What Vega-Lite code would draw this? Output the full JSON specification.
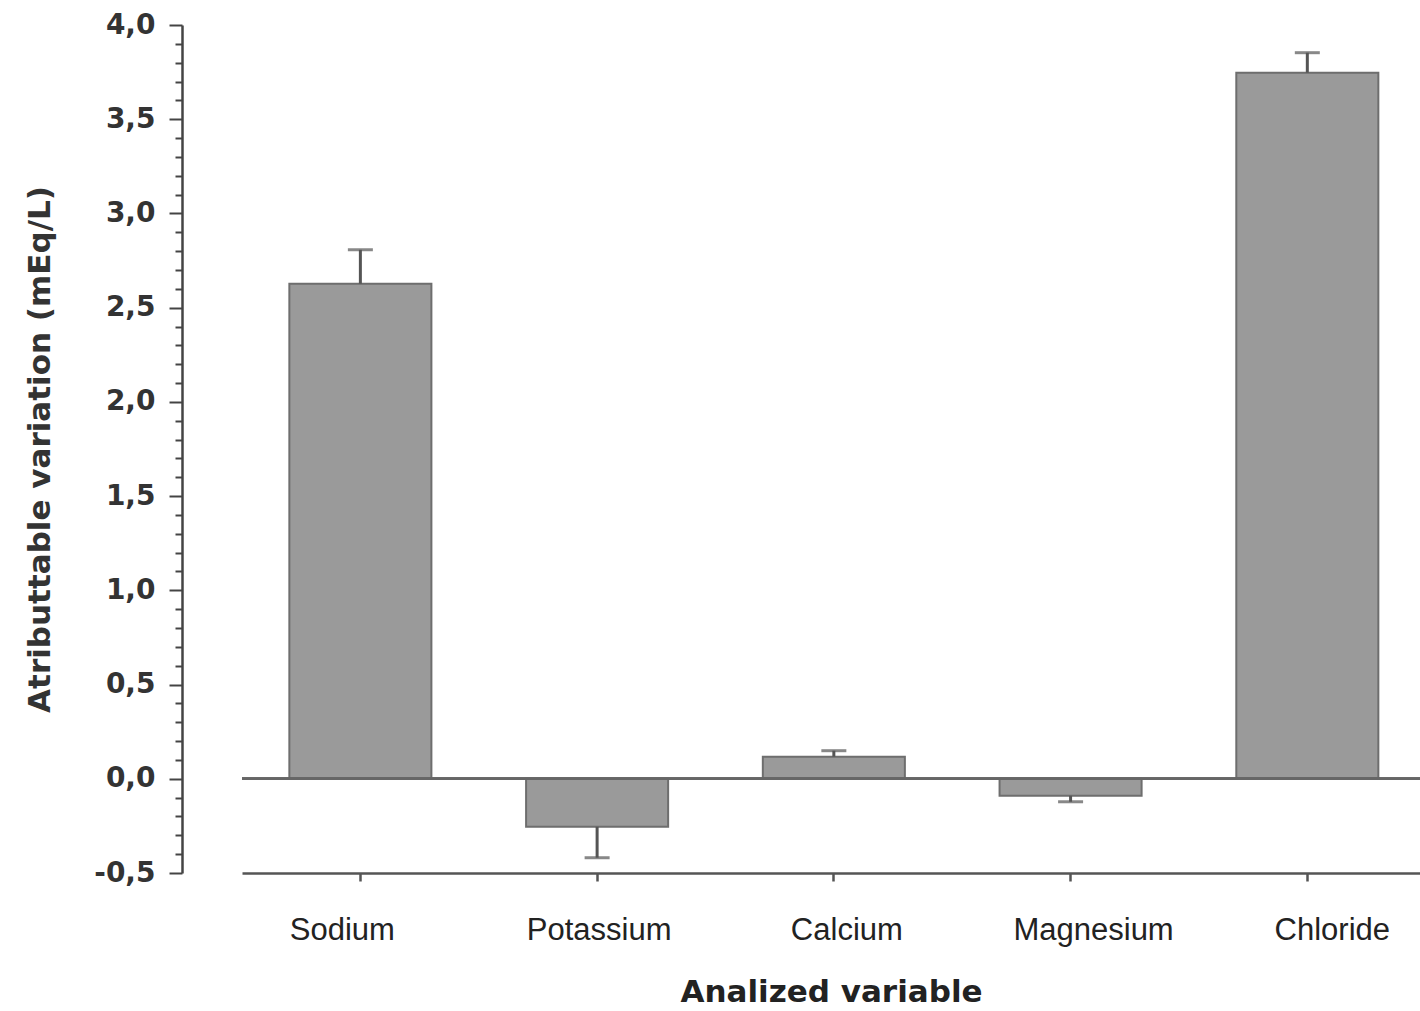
{
  "$schema": "https://vega.github.io/schema/vega-lite/v6.json",
  "width": 1178,
  "height": 848,
  "autosize": {"type": "none"},
  "padding": {"left": 242, "top": 25, "right": 0, "bottom": 138},
  "background": "white",
  "config": {"view": {"stroke": null}},
  "data": {
    "values": [
      {"element": "Sodium", "value": 2.627, "err": 2.807},
      {"element": "Potassium", "value": -0.255, "err": -0.419},
      {"element": "Calcium", "value": 0.117, "err": 0.149},
      {"element": "Magnesium", "value": -0.09, "err": -0.122},
      {"element": "Chloride", "value": 3.747, "err": 3.853}
    ]
  },
  "layer": [
    {
      "mark": {"type": "bar", "color": "#9a9a9a", "stroke": "#6e6e6e", "strokeWidth": 2},
      "encoding": {
        "x": {
          "field": "element", "type": "nominal", "sort": null,
          "scale": {"paddingInner": 0.4, "paddingOuter": 0.188, "align": 0.532},
          "axis": {
            "title": "Analized variable",
            "titleFont": "DejaVu Sans", "titleFontWeight": "bold", "titleFontSize": 31, "titleColor": "#222",
            "titlePadding": 32,
            "labelAngle": 0, "labelFont": "Liberation Sans", "labelFontSize": 31, "labelColor": "#222",
            "labelPadding": 34,
            "labelOffset": {
              "condition": [
                {"test": "datum.value === 'Sodium'", "value": -18},
                {"test": "datum.value === 'Calcium'", "value": 13},
                {"test": "datum.value === 'Magnesium'", "value": 23},
                {"test": "datum.value === 'Chloride'", "value": 25}
              ],
              "value": 2
            },
            "domainColor": "#555", "domainWidth": 2.5,
            "tickColor": "#555", "tickWidth": 2.5, "tickSize": 8
          }
        },
        "y": {
          "field": "value", "type": "quantitative",
          "scale": {"domain": [-0.5, 4.0], "nice": false, "zero": false},
          "axis": {
            "title": "Atributtable variation (mEq/L)",
            "titleFont": "DejaVu Sans", "titleFontWeight": "bold", "titleFontSize": 31, "titleColor": "#333",
            "titlePadding": 37,
            "offset": 60,
            "grid": false,
            "tickCount": 200,
            "values": [-0.5,-0.4,-0.3,-0.2,-0.1,0,0.1,0.2,0.3,0.4,0.5,0.6,0.7,0.8,0.9,1.0,1.1,1.2,1.3,1.4,1.5,1.6,1.7,1.8,1.9,2.0,2.1,2.2,2.3,2.4,2.5,2.6,2.7,2.8,2.9,3.0,3.1,3.2,3.3,3.4,3.5,3.6,3.7,3.8,3.9,4.0],
            "labelExpr": "abs(datum.value*2 - round(datum.value*2)) < 0.001 ? replace(replace(format(datum.value, '.1f'), '.', ','), '\u2212', '-') : ''",
            "labelOverlap": false,
            "labelFont": "DejaVu Sans", "labelFontWeight": "bold", "labelFontSize": 28, "labelColor": "#333",
            "labelPadding": 14,
            "domainColor": "#444", "domainWidth": 2.5,
            "tickColor": "#444", "tickWidth": 2,
            "tickSize": {"condition": {"test": "abs(datum.value*2 - round(datum.value*2)) < 0.001", "value": 13}, "value": 7}
          }
        }
      }
    },
    {
      "mark": {"type": "rule", "color": "#666", "strokeWidth": 2.5},
      "encoding": {"y": {"datum": 0}}
    },
    {
      "mark": {"type": "rule", "color": "#555", "strokeWidth": 3},
      "encoding": {
        "x": {"field": "element", "type": "nominal", "sort": null},
        "y": {"field": "value", "type": "quantitative"},
        "y2": {"field": "err"}
      }
    },
    {
      "mark": {"type": "tick", "color": "#555", "size": 25, "thickness": 3},
      "encoding": {
        "x": {"field": "element", "type": "nominal", "sort": null},
        "y": {"field": "err", "type": "quantitative"}
      }
    }
  ]
}
